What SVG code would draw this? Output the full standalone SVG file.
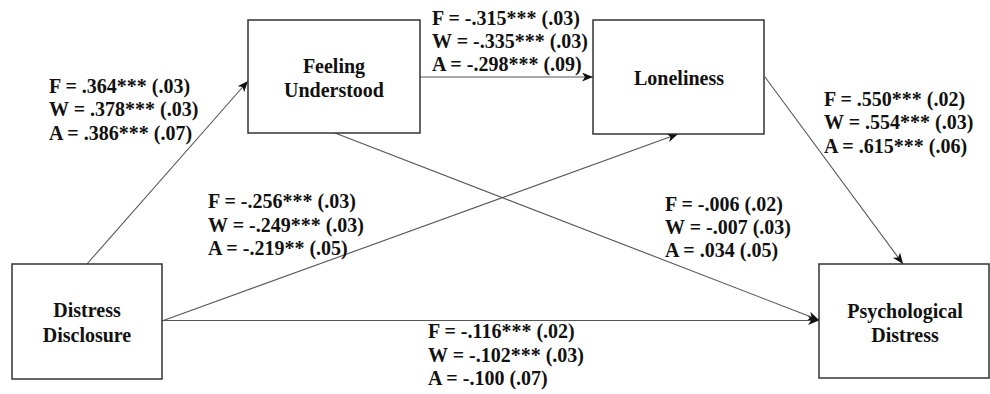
<svg xmlns="http://www.w3.org/2000/svg" width="990" height="394" viewBox="0 0 990 394">
<style>
text{font-family:'Liberation Serif','Times New Roman',Times,serif;font-weight:700;font-size:20px;fill:#111}
.box{fill:#fff;stroke:#333;stroke-width:1.5}
.nl{text-anchor:middle}
.cn{stroke:#555;stroke-width:1.1;fill:none;marker-end:url(#ah)}
</style>
<defs>
<marker id="ah" markerUnits="userSpaceOnUse" markerWidth="12" markerHeight="10" refX="11" refY="4.5" orient="auto">
<path d="M0,0 L11,4.5 L0,9 L3,4.5 z" fill="#111"/>
</marker>
</defs>
<rect width="990" height="394" fill="#fff"/>
<g id="connectors">
<line class="cn" x1="87" y1="264" x2="248" y2="81"/>
<line class="cn" x1="420" y1="77" x2="593" y2="77"/>
<line class="cn" x1="162" y1="321" x2="678" y2="134"/>
<line class="cn" x1="335" y1="133" x2="819" y2="320"/>
<line class="cn" x1="765" y1="77" x2="903" y2="264"/>
<line class="cn" x1="162" y1="320.5" x2="819" y2="320.5"/>
</g>
<g id="feeling-understood">
<rect class="box" x="248" y="20" width="172" height="113"/>
<text class="nl" x="334" y="73" font-family="Liberation Serif">Feeling</text>
<text class="nl" x="334" y="97">Understood</text>
</g>
<g id="loneliness">
<rect class="box" x="593" y="20" width="171" height="114"/>
<text class="nl" x="679" y="85">Loneliness</text>
</g>
<g id="distress-disclosure">
<rect class="box" x="12" y="264" width="150" height="115"/>
<text class="nl" x="87" y="317">Distress</text>
<text class="nl" x="87" y="342">Disclosure</text>
</g>
<g id="psychological-distress">
<rect class="box" x="819" y="264" width="170" height="114"/>
<text class="nl" x="905" y="318">Psychological</text>
<text class="nl" x="905" y="342">Distress</text>
</g>
<g id="labels">
<text x="49" y="93">F = .364*** (.03)</text>
<text x="49" y="116">W = .378*** (.03)</text>
<text x="49" y="140">A = .386*** (.07)</text>
<text x="432" y="25">F = -.315*** (.03)</text>
<text x="432" y="48">W = -.335*** (.03)</text>
<text x="432" y="71">A = -.298*** (.09)</text>
<text x="824" y="106">F = .550*** (.02)</text>
<text x="824" y="129">W = .554*** (.03)</text>
<text x="824" y="153">A = .615*** (.06)</text>
<text x="208" y="208">F = -.256*** (.03)</text>
<text x="208" y="232">W = -.249*** (.03)</text>
<text x="208" y="255">A = -.219** (.05)</text>
<text x="665" y="211">F = -.006 (.02)</text>
<text x="665" y="234">W = -.007 (.03)</text>
<text x="665" y="257">A = .034 (.05)</text>
<text x="428" y="338">F = -.116*** (.02)</text>
<text x="428" y="362">W = -.102*** (.03)</text>
<text x="428" y="385">A = -.100 (.07)</text>
</g>
</svg>
